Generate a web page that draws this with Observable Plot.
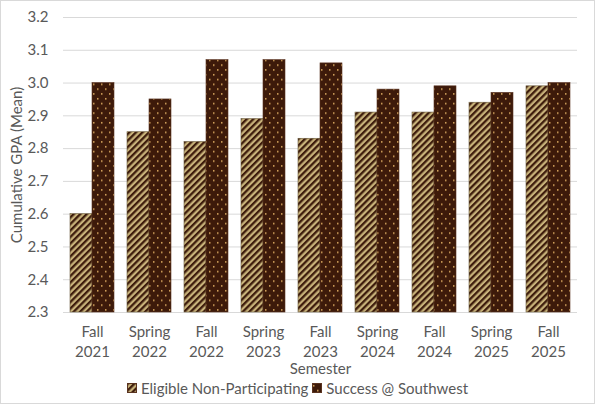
<!DOCTYPE html>
<html>
<head>
<meta charset="utf-8">
<script src="https://cdn.jsdelivr.net/npm/d3@7"></script>
<script src="https://cdn.jsdelivr.net/npm/@observablehq/plot@0.6"></script>
<style>
  html, body { margin: 0; padding: 0; background: #fff; }
  #wrap { position: relative; width: 595px; height: 404px; font-family: Lato, "Open Sans", sans-serif; color: #595959; }
  #border { position: absolute; left: 0; top: 0; width: 595px; height: 404px; box-sizing: border-box; border: 1px solid #d9d9d9; pointer-events: none; }
  #chart { position: absolute; left: 0; top: 0; }
  #legend { position: absolute; left: 0; top: 378px; width: 595px; text-align: center; font-size: 15px; white-space: nowrap; }
  #legend span.item { display: inline-flex; align-items: center; margin: 0 2px; }
  #legend svg { margin-right: 4px; }
</style>
</head>
<body>
<svg width="0" height="0" style="position:absolute">
  <defs>
    <pattern id="stripes" patternUnits="userSpaceOnUse" width="4.6" height="4.6" patternTransform="rotate(45)">
      <rect width="4.6" height="4.6" fill="#c8b27a"></rect>
      <rect width="2.3" height="4.6" fill="#3d1c0c"></rect>
    </pattern>
    <pattern id="dots" patternUnits="userSpaceOnUse" width="8" height="9.6">
      <rect width="8" height="9.6" fill="#3d1a0a"></rect>
      <rect x="1" y="2" width="1.5" height="1.5" fill="#e0ae62"></rect>
      <rect x="5" y="6.8" width="1.5" height="1.5" fill="#e0ae62"></rect>
    </pattern>
  </defs>
</svg>
<div id="wrap">
  <div id="chart"></div>
  <div id="legend"></div>
  <div id="border"></div>
</div>
<script>
const semesters = ["Fall 2021","Spring 2022","Fall 2022","Spring 2023","Fall 2023","Spring 2024","Fall 2024","Spring 2025","Fall 2025"];
const eligible = [2.60, 2.85, 2.82, 2.89, 2.83, 2.91, 2.91, 2.94, 2.99];
const success  = [3.00, 2.95, 3.07, 3.07, 3.06, 2.98, 2.99, 2.97, 3.00];
const seriesNames = ["Eligible Non-Participating", "Success @ Southwest"];
const seriesFills = ["url(#stripes)", "url(#dots)"];
const yTicks = [2.3, 2.4, 2.5, 2.6, 2.7, 2.8, 2.9, 3.0, 3.1, 3.2];
const yTitle = "Cumulative GPA (Mean)";
const xTitle = "Semester";

const yBase = yTicks[0];
const eligData = semesters.map((s, i) => ({semester: s, value: eligible[i]}));
const succData = semesters.map((s, i) => ({semester: s, value: success[i]}));

const font = "Lato, 'Open Sans', sans-serif";

const chart = Plot.plot({
  width: 595,
  height: 404,
  marginTop: 17,
  marginBottom: 92,
  marginLeft: 63,
  marginRight: 18,
  style: {fontFamily: font, fontSize: "15px", color: "#595959", background: "transparent"},
  x: {domain: semesters, paddingInner: 0.23, paddingOuter: 0.115, axis: null},
  y: {domain: [yTicks[0], yTicks[yTicks.length - 1]], ticks: yTicks, tickFormat: d => d.toFixed(1), tickSize: 0, tickPadding: 15, label: null, grid: false},
  marks: [
    Plot.ruleY(yTicks, {stroke: "#d9d9d9", strokeWidth: 1}),
    Plot.barY(eligData, {x: "semester", y1: yBase, y2: "value", fill: seriesFills[0], stroke: "#6a5a3c", strokeWidth: 0.6, insetRight: 22}),
    Plot.barY(succData, {x: "semester", y1: yBase, y2: "value", fill: seriesFills[1], stroke: "#5a3320", strokeWidth: 0.6, insetLeft: 22}),
    Plot.text(semesters, {x: d => d, text: d => d.replace(" ", "\n"), frameAnchor: "bottom", lineAnchor: "top", lineHeight: 1.33, dy: 10, fill: "#595959", fontSize: 15}),
    Plot.text([xTitle], {frameAnchor: "bottom", lineAnchor: "middle", text: d => d, dy: 57, fill: "#595959", fontSize: 15}),
    Plot.text([yTitle], {frameAnchor: "left", textAnchor: "middle", lineAnchor: "middle", text: d => d, rotate: -90, dx: -46, fill: "#595959", fontSize: 15})
  ]
});
document.getElementById("chart").appendChild(chart);

const legend = d3.select("#legend");
seriesNames.forEach((name, i) => {
  const item = legend.append("span").attr("class", "item");
  const sw = item.append("svg").attr("width", 10).attr("height", 10);
  sw.append("rect").attr("x", 0.5).attr("y", 0.5).attr("width", 9).attr("height", 9)
    .attr("fill", seriesFills[i]).attr("stroke", "#5a3320").attr("stroke-width", 1);
  item.append("span").text(name);
});
</script>
</body>
</html>
